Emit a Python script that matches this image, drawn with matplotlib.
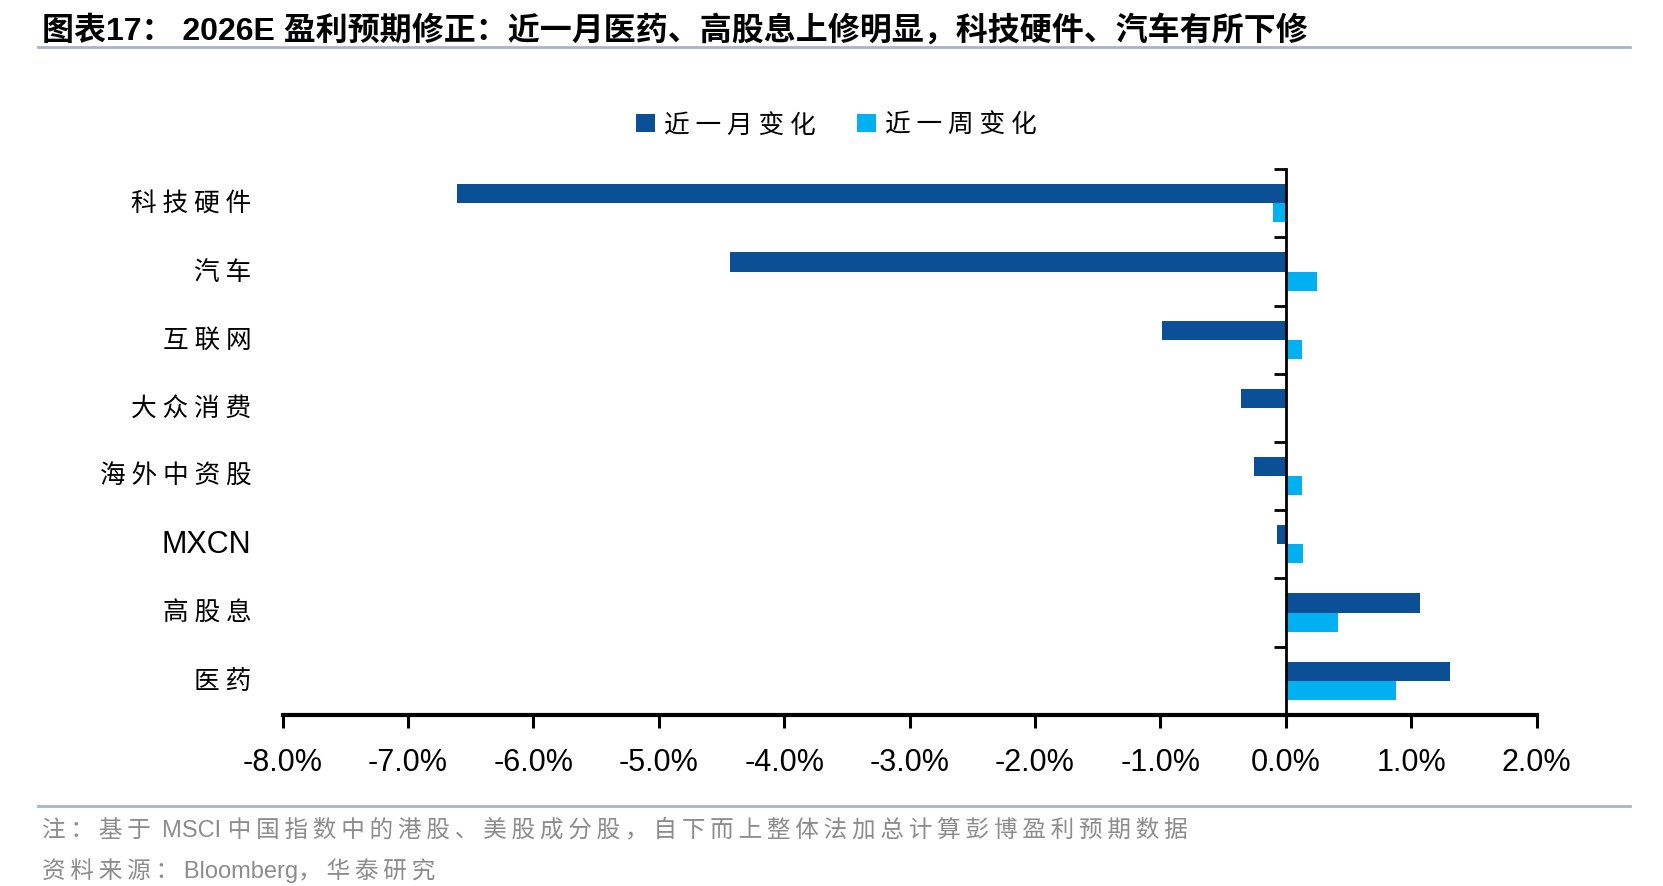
import numpy as np
import matplotlib
matplotlib.use('Agg')
from matplotlib import pyplot as plt
from matplotlib.patches import Patch
from matplotlib.lines import Line2D

plt.rcParams['font.family'] = ['Liberation Sans', 'Noto Sans CJK SC', 'DejaVu Sans']

categories = ['科技硬件', '汽车', '互联网', '大众消费', '海外中资股', 'MXCN', '高股息', '医药']
month_chg = [-6.61, -4.43, -0.99, -0.36, -0.25, -0.07, 1.07, 1.31]
week_chg = [-0.10, 0.25, 0.13, 0.0, 0.13, 0.14, 0.42, 0.88]
xticks = [-8, -7, -6, -5, -4, -3, -2, -1, 0, 1, 2]

dark = '#0B4F96'
light = '#00B0F0'
cjk = ['Noto Sans CJK SC', 'DejaVu Sans']


def spaced(s, gap=' '):
    # add a little tracking after CJK characters, leave latin runs alone
    out = ''
    for i, ch in enumerate(s):
        out += ch
        if ord(ch) > 127 and i < len(s) - 1:
            out += gap
    return out


fig = plt.figure(figsize=(16.63, 8.87), dpi=100)
ax = fig.add_axes([0.170, 0.193, 0.754, 0.615])

n = len(categories)
ypos = np.arange(n)[::-1]  # first category on top
h = 0.28
ax.barh(ypos + h / 2, month_chg, height=h, color=dark, zorder=2)
ax.barh(ypos - h / 2, week_chg, height=h, color=light, zorder=2)

ax.set_xlim(-8, 2)
ax.set_ylim(-0.5, n - 0.5)
ax.set_xticks(xticks)
ax.set_xticklabels([f'{v:.1f}%' for v in xticks], fontsize=22, family=['Liberation Sans'])
ax.tick_params(axis='x', direction='out', length=9, width=2.2, pad=14)

# y axis sits at zero, ticks at category boundaries
ax.spines['left'].set_position(('data', 0))
ax.spines['left'].set_linewidth(2)
ax.spines['bottom'].set_linewidth(3)
ax.spines['top'].set_visible(False)
ax.spines['right'].set_visible(False)
ax.set_yticks(np.arange(n + 1) - 0.5)
ax.set_yticklabels([])
ax.tick_params(axis='y', direction='out', length=9, width=2)

for y, name in zip(ypos, categories):
    if name.isascii():
        ax.text(-0.025, y, name, transform=ax.get_yaxis_transform(), ha='right', va='center',
                fontsize=22, family=['Liberation Sans'])
    else:
        ax.text(-0.025, y, spaced(name), transform=ax.get_yaxis_transform(), ha='right', va='center',
                fontsize=18.5, family=cjk)

handles = [Patch(facecolor=dark), Patch(facecolor=light)]
fig.legend(handles, [spaced('近一月变化'), spaced('近一周变化')], loc='center',
           bbox_to_anchor=(0.503, 0.858), ncol=2, frameon=False,
           prop={'family': cjk, 'size': 18.5}, handlelength=0.75, handleheight=0.75,
           handletextpad=0.35, columnspacing=1.6)

# header / footer
fig.text(0.025, 0.965, '图表17： 2026E 盈利预期修正：近一月医药、高股息上修明显，科技硬件、汽车有所下修',
         fontsize=23, fontweight='bold', va='center', ha='left')
fig.add_artist(Line2D([0.023, 0.980], [0.946, 0.946], color='#A9B5C6', lw=2))
fig.add_artist(Line2D([0.023, 0.980], [0.090, 0.090], color='#A9B5C6', lw=2))
fig.text(0.025, 0.064, spaced('注：基于 MSCI 中国指数中的港股、美股成分股，自下而上整体法加总计算彭博盈利预期数据', '\u2009'),
         fontsize=17, color='#8C8C8C', va='center', ha='left', family=['Liberation Sans'] + cjk)
fig.text(0.025, 0.019, spaced('资料来源：Bloomberg，华泰研究', '\u2009'),
         fontsize=17, color='#8C8C8C', va='center', ha='left', family=['Liberation Sans'] + cjk)

fig.savefig('out.png', dpi=100, facecolor='white')
